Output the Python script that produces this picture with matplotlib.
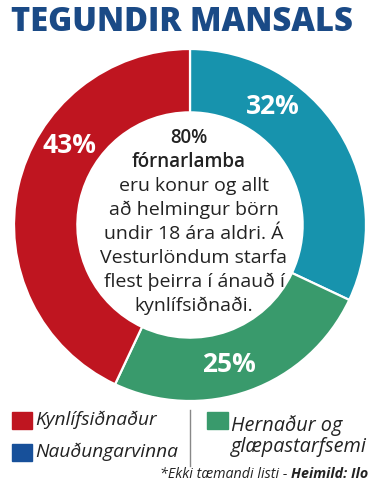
import numpy as np
import matplotlib.pyplot as plt

# data
categories = ['Nauðungarvinna', 'Hernaður og glæpastarfsemi', 'Kynlífsiðnaður']
shares = [32, 25, 43]
ring_colors = ['#1793ad', '#399a6c', '#bf1520']
label_angles = [35, 164.5, -56.5]   # degrees clockwise from top, where the % labels sit

title = 'TEGUNDIR MANSALS'
center_bold = ['80%', 'fórnarlamba']
center_lines = ['eru konur og allt', 'að helmingur börn', 'undir 18 ára aldri. Á',
                'Vesturlöndum starfa', 'flest þeirra í ánauð í', 'kynlífsiðnaði.']
legend_left = [('Kynlífsiðnaður', '#bf1520'), ('Nauðungarvinna', '#17509a')]
legend_right = ('Hernaður og\nglæpastarfsemi', '#399a6c')
source = '*Ekki tæmandi listi - '
source_bold = 'Heimild: Ilo'

family = ['Open Sans', 'DejaVu Sans']
W, H = 390, 488
fig = plt.figure(figsize=(W / 100, H / 100), dpi=100)

# donut, centre (190, 225) px, radius 176 px
cx, cy, R = 190, 225, 176
pax = fig.add_axes([(cx - R) / W, (H - cy - R) / H, 2 * R / W, 2 * R / H])
wedges, _ = pax.pie(shares, colors=ring_colors, startangle=90, counterclock=False,
                    radius=1, wedgeprops=dict(width=0.36, edgecolor='white', linewidth=1.6))
pax.set_xlim(-1, 1)
pax.set_ylim(-1, 1)
pax.axis('off')

for s, a in zip(shares, label_angles):
    t = np.deg2rad(a)
    pax.text(0.82 * np.sin(t), 0.82 * np.cos(t), f'{s}%', ha='center', va='center',
             color='white', fontsize=19, fontweight='bold', family=family)

# overlay axes in pixel units for text
ax = fig.add_axes([0, 0, 1, 1])
ax.set_xlim(0, W)
ax.set_ylim(H, 0)
ax.axis('off')

ax.text(11, 22, title, ha='left', va='center', fontsize=23.5, fontweight='heavy',
        color='#1a4a86', family=family)

y = 138
for line in center_bold:
    ax.text(189, y, line, ha='center', va='center', fontsize=13.5, fontweight='semibold',
            color='#222222', family=family)
    y += 24
y = 186
for line in center_lines:
    ax.text(194, y, line, ha='center', va='center', fontsize=14,
            color='#222222', family=family)
    y += 24

# legend
for i, (name, col) in enumerate(legend_left):
    yy = 420 + i * 32
    ax.add_patch(plt.Rectangle((12, yy - 8), 20, 17, color=col))
    ax.text(35, yy, name, ha='left', va='center', fontsize=13.8, style='italic',
            color='#222222', family=family)
ax.plot([190, 190], [410, 466], color='#888888', lw=1)
ax.add_patch(plt.Rectangle((207, 412), 21, 17, color=legend_right[1]))
ax.text(231, 436, legend_right[0], ha='left', va='center', fontsize=14.3, style='italic',
        color='#222222', family=family, linespacing=1.05)

t2 = ax.text(368, 474, source_bold, ha='right', va='center', fontsize=10.3, style='italic',
             fontweight='bold', color='#222222', family=family)
fig.canvas.draw()
bb = t2.get_window_extent()
x0 = ax.transData.inverted().transform((bb.x0, bb.y0))[0]
ax.text(x0, 474, source, ha='right', va='center', fontsize=10.3, style='italic',
        color='#222222', family=family)

fig.savefig('out.png', dpi=100)
